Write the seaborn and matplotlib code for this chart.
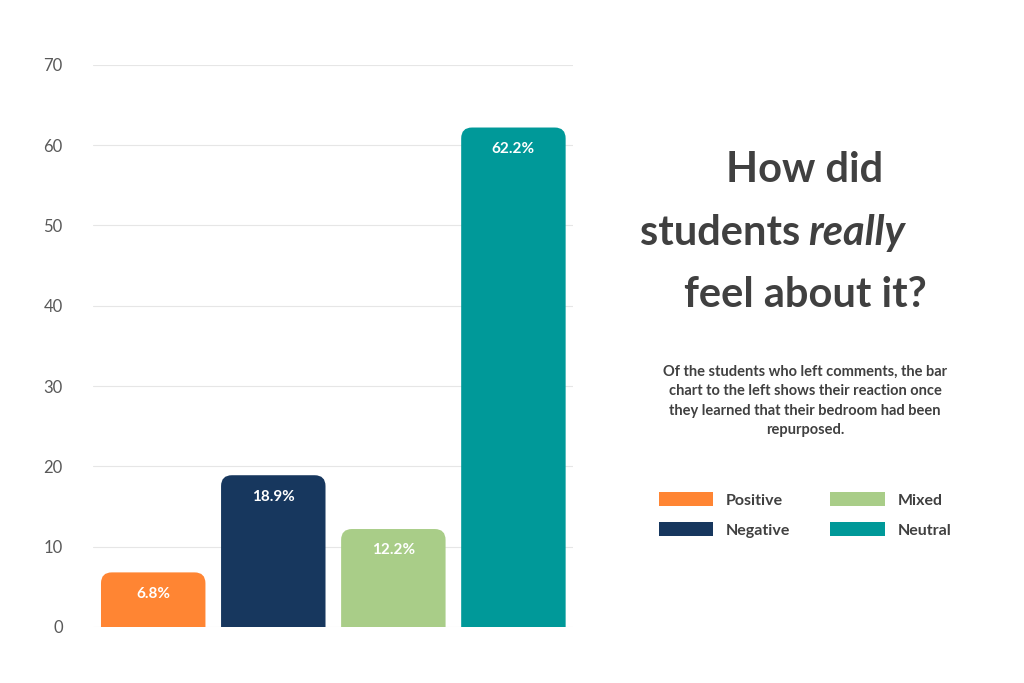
import matplotlib.pyplot as plt
import seaborn as sns
from matplotlib.patches import FancyBboxPatch, Patch

categories = ['Positive', 'Negative', 'Mixed', 'Neutral']
values = [6.8, 18.9, 12.2, 62.2]
colors = ['#FF8533', '#17375E', '#A9CD88', '#009999']
yticks = [0, 10, 20, 30, 40, 50, 60, 70]

sns.set_style('white')
plt.rcParams['font.family'] = ['Lato', 'DejaVu Sans']

fig = plt.figure(figsize=(10.24, 6.83), dpi=100)
ax = fig.add_axes([0.091, 0.082, 0.469, 0.823])

sns.barplot(x=categories, y=values, hue=categories, palette=colors,
            width=0.87, legend=False, ax=ax)
ax.set_xlim(-0.5, 3.5)
ax.set_ylim(0, 70)

# swap plain bars for bars with rounded tops
for p, c, v in zip(list(ax.patches), colors, values):
    x, w = p.get_x(), p.get_width()
    p.remove()
    box = FancyBboxPatch((x, -3), w, v + 3,
                         boxstyle='round,pad=0,rounding_size=0.09',
                         mutation_aspect=15, fc=c, ec='none', zorder=3)
    ax.add_patch(box)
    ax.text(x + w / 2, v - 1.8, f'{v:.1f}%', ha='center', va='top',
            color='white', fontsize=11, fontweight='bold', zorder=4)

ax.set_yticks(yticks)
ax.set_xticks([])
ax.tick_params(axis='y', length=0, labelsize=12, labelcolor='#595959', pad=22)
ax.yaxis.grid(True, color='#e6e6e6', lw=0.8, zorder=0)
ax.set_axisbelow(True)
for s in ax.spines.values():
    s.set_visible(False)
ax.set_xlabel('')
ax.set_ylabel('')

tc = '#404040'
fig.text(805 / 1024, 1 - 170 / 683, 'How did', ha='center', va='center',
         fontsize=30, fontweight='bold', color=tc)
fig.text(800 / 1024, 1 - 233 / 683, 'students', ha='right', va='center',
         fontsize=30, fontweight='bold', color=tc)
fig.text(808 / 1024, 1 - 233 / 683, 'really', ha='left', va='center',
         fontsize=30, fontweight='bold', style='italic', color=tc)
fig.text(805 / 1024, 1 - 295 / 683, 'feel about it?', ha='center', va='center',
         fontsize=30, fontweight='bold', color=tc)

para = ('Of the students who left comments, the bar\n'
        'chart to the left shows their reaction once\n'
        'they learned that their bedroom had been\n'
        'repurposed.')
fig.text(805 / 1024, 1 - 401 / 683, para, ha='center', va='center',
         fontsize=10.5, fontweight='bold', color=tc, linespacing=1.5)

handles = [Patch(fc=c, ec='none') for c in colors]
fig.legend(handles, categories, ncol=2, loc='center',
           bbox_to_anchor=(805 / 1024, 1 - 515 / 683), frameon=False,
           handlelength=3.4, handleheight=1.0, columnspacing=2.5,
           labelspacing=0.9, prop={'size': 11.5, 'weight': 'bold'},
           labelcolor=tc)

plt.savefig('out.png', dpi=100)
